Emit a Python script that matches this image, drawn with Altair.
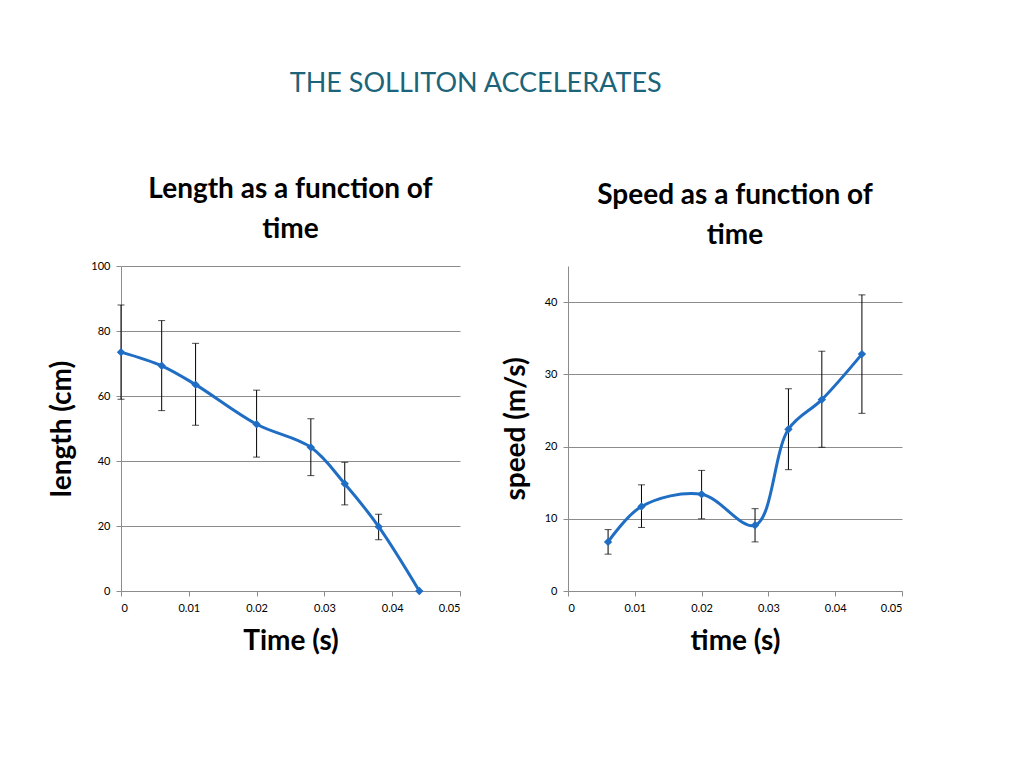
import pandas as pd
import altair as alt

# length vs time
len_t = [0, 0.006, 0.011, 0.02, 0.028, 0.033, 0.038, 0.044]
len_v = [73.5, 69.3, 63.5, 51.3, 44.2, 33.0, 19.8, 0.0]
len_lo = [59.0, 55.5, 51.0, 41.2, 35.5, 26.5, 15.8, 0.0]
len_hi = [88.0, 83.2, 76.2, 61.8, 53.0, 39.6, 23.6, 0.0]

# speed vs time
spd_t = [0.006, 0.011, 0.02, 0.028, 0.033, 0.038, 0.044]
spd_v = [6.8, 11.7, 13.4, 9.1, 22.4, 26.5, 32.8]
spd_lo = [5.1, 8.8, 10.0, 6.8, 16.8, 19.9, 24.6]
spd_hi = [8.5, 14.7, 16.7, 11.4, 28.0, 33.2, 41.0]

BLUE = "#1F6EC4"
FONT = "Lato"

len_df = pd.DataFrame({"t": len_t, "v": len_v, "lo": len_lo, "hi": len_hi})
spd_df = pd.DataFrame({"t": spd_t, "v": spd_v, "lo": spd_lo, "hi": spd_hi})


def panel(df, title, xtitle, ytitle, ymax, ystep, w):
    x = alt.X("t:Q", title=xtitle, scale=alt.Scale(domain=[0, 0.05]),
              axis=alt.Axis(values=[0, 0.01, 0.02, 0.03, 0.04, 0.05], format="~g", grid=False))
    y = alt.Y("v:Q", title=ytitle, scale=alt.Scale(domain=[0, ymax]),
              axis=alt.Axis(values=list(range(0, ymax + 1, ystep))))
    base = alt.Chart(df)
    line = base.mark_line(color=BLUE, strokeWidth=3, interpolate="catmull-rom").encode(x=x, y=y)
    pts = base.mark_point(shape="diamond", filled=True, color=BLUE, size=70, opacity=1).encode(x=x, y=y)
    err = base.transform_filter("datum.hi > datum.lo").mark_errorbar(
        ticks=alt.MarkConfig(size=7, color="black"), color="black").encode(
        x="t:Q", y=alt.Y("lo:Q", title=ytitle), y2="hi:Q")
    return alt.layer(err, line, pts).properties(
        width=w, height=325,
        title=alt.TitleParams(title, fontSize=28, font=FONT, fontWeight="bold",
                              color="black", offset=16, lineHeight=40))


left = panel(len_df, ["Length as a function of", "time"], "Time (s)", "length (cm)", 100, 10, 339)
right = panel(spd_df, ["Speed as a function of", "time"], "time (s)", "speed (m/s)", 45, 5, 334)

chart = alt.hconcat(left, right, spacing=41).properties(
    title=alt.TitleParams("THE SOLLITON ACCELERATES", fontSize=27, font=FONT,
                          fontWeight="normal", color="#1B6479", anchor="middle", offset=78),
    padding={"left": 40, "top": 62, "right": 10, "bottom": 10}
).configure_axis(
    labelFont=FONT, labelFontSize=11, labelColor="black",
    titleFont=FONT, titleFontSize=28, titleFontWeight="bold", titleColor="black",
    gridColor="#8c8c8c", domainColor="#8c8c8c", tickColor="#8c8c8c",
    labelPadding=6, titlePadding=14
).configure_view(stroke=None).configure_title(anchor="middle")

chart.save("out.html", embed_options={"renderer": "svg", "actions": False})
